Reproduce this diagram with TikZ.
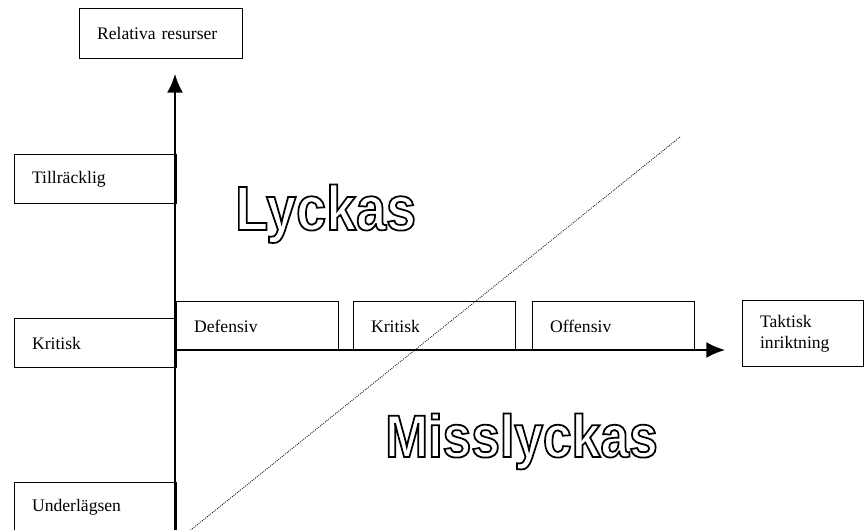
\documentclass[tikz,border=0pt]{standalone}
\usepackage{fontspec}
\setmainfont{Liberation Serif}
\newfontfamily\konturfont{Liberation Sans}[UprightFont={* Bold}, FakeStretch=0.86]
\usetikzlibrary{arrows.meta}

% konturtext (endast ytterlinje)
\newcommand{\kontur}[1]{\special{pdf:literal direct 1 Tr 1.3 w}#1\special{pdf:literal direct 0 Tr}}

\tikzset{
  ruta/.style={draw, line width=1.1pt, anchor=north west, inner xsep=13pt, inner ysep=0pt,
    align=left, font=\fontsize{13.2}{15.5}\selectfont, minimum height=36.75pt, text width=95.5pt},
  stor/.style={anchor=base west, inner sep=0pt, font=\konturfont\fontsize{#1}{#1}\selectfont}
}

\begin{document}
\begin{tikzpicture}[x=0.75pt, y=-0.75pt, >={Latex[length=14pt,width=12pt]}]
\useasboundingbox (0,0) rectangle (864,529);

\node [ruta, text width=96pt, minimum height=37.5pt] (resurser) at (79,8) {Relativa resurser};

\foreach \t/\y [count=\i] in {Tillräcklig/154, Kritisk/318, Underlägsen/482} % resursnivåer
  \node [ruta] (niva-\i) at (14,\y) {\t};

\foreach \t/\x [count=\i] in {Defensiv/176, Kritisk/353, Offensiv/532} % taktik
  \node [ruta] (taktik-\i) at (\x,301) {\t};

\node [ruta, anchor=north west, text width=64.75pt, minimum height=49.5pt] (inriktning) at (742,300) {Taktisk\\inriktning};

\coordinate (origo) at (175,350);
\coordinate (ybotten) at (175,540);
\coordinate (ytopp) at (175,74);
\coordinate (xslut) at (725,350);

\draw [->, line width=1.5pt] (ybotten) -- (ytopp);
\draw [->, line width=1.5pt] (origo) -- (xslut);

\coordinate (linje-a) at (187,533);
\coordinate (linje-b) at (680,137);
\draw [line width=0.6pt, dash pattern=on 0.7pt off 0.9pt] (linje-a) -- (linje-b);

\node [stor=47] (lyckas) at (235,230) {\kontur{Lyckas}};
\node [stor=45] (misslyckas) at (385,457) {\kontur{Misslyckas}};

\end{tikzpicture}
\end{document}
